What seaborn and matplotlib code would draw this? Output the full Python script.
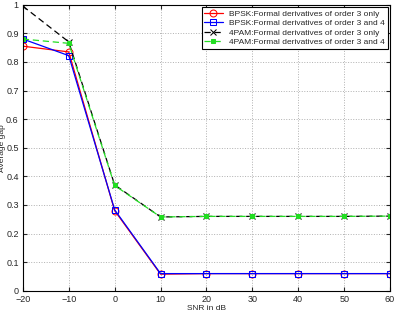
import numpy as np
import pandas as pd
import seaborn as sns
import matplotlib.pyplot as plt

snr = [-20, -10, 0, 10, 20, 30, 40, 50, 60]
bpsk_o3 = [0.855, 0.835, 0.280, 0.058, 0.060, 0.060, 0.060, 0.060, 0.060]
bpsk_o34 = [0.880, 0.822, 0.283, 0.060, 0.060, 0.060, 0.060, 0.060, 0.060]
pam_o3 = [0.995, 0.870, 0.370, 0.258, 0.260, 0.260, 0.260, 0.260, 0.261]
pam_o34 = [0.880, 0.865, 0.368, 0.258, 0.260, 0.260, 0.260, 0.260, 0.261]

labels = ['BPSK:Formal derivatives of order 3 only',
          'BPSK:Formal derivatives of order 3 and 4',
          '4PAM:Formal derivatives of order 3 only',
          '4PAM:Formal derivatives of order 3 and 4']

df = pd.DataFrame({'snr': snr * 4,
                   'gap': bpsk_o3 + bpsk_o34 + pam_o3 + pam_o34,
                   'series': np.repeat(labels, len(snr))})

sns.set_style('ticks')
plt.rcParams['font.family'] = ['Liberation Sans', 'DejaVu Sans']

fig, ax = plt.subplots(figsize=(3.94, 3.14), dpi=100)

styles = {
    labels[0]: dict(color='#ff0000', marker='o', linestyle='-', mfc='none', ms=5),
    labels[1]: dict(color='#0000ff', marker='s', linestyle='-', mfc='none', ms=5),
    labels[2]: dict(color='black', marker='x', linestyle=(0, (5, 3)), ms=4),
    labels[3]: dict(color='#22dd22', marker='s', linestyle=(0, (5, 3)), ms=3),
}

for lab in labels:
    d = df[df['series'] == lab]
    st = styles[lab]
    sns.lineplot(data=d, x='snr', y='gap', ax=ax, label=lab, color=st['color'],
                 marker=st['marker'], linestyle=st['linestyle'], markersize=st['ms'],
                 markerfacecolor=st.get('mfc', st['color']), markeredgecolor=st['color'],
                 linewidth=0.9)

ax.set_xlim(-20, 60)
ax.set_ylim(0, 1)
ax.set_xticks(range(-20, 61, 10))
ax.set_xticklabels(['\u221220', '\u221210'] + [str(v) for v in range(0, 61, 10)])
ax.set_yticks(np.arange(0, 1.01, 0.1))
ax.set_yticklabels(['0'] + ['%.1f' % v for v in np.arange(0.1, 0.95, 0.1)] + ['1'])
ax.tick_params(labelsize=6.5, direction='in', length=3, top=True, right=True)
ax.tick_params(axis='x', pad=3)
ax.tick_params(axis='y', pad=3)
ax.grid(True, linestyle=':', color='#b0b0b0', linewidth=0.7)
for s in ax.spines.values():
    s.set_linewidth(0.8)
    s.set_color('black')

ax.set_xlabel('SNR in dB', fontsize=6)
ax.set_ylabel('Average gap', fontsize=6)
ax.xaxis.set_label_coords(0.5, -0.05)
ax.yaxis.set_label_coords(-0.045, 0.5)

leg = ax.legend(loc='upper right', fontsize=6, frameon=True, fancybox=False,
                edgecolor='black', framealpha=1, handlelength=2.2,
                borderpad=0.3, labelspacing=0.2, borderaxespad=0.3)
leg.get_frame().set_linewidth(0.8)

fig.subplots_adjust(left=0.058, right=0.99, top=0.985, bottom=0.074)
fig.savefig('out.png', dpi=100)
